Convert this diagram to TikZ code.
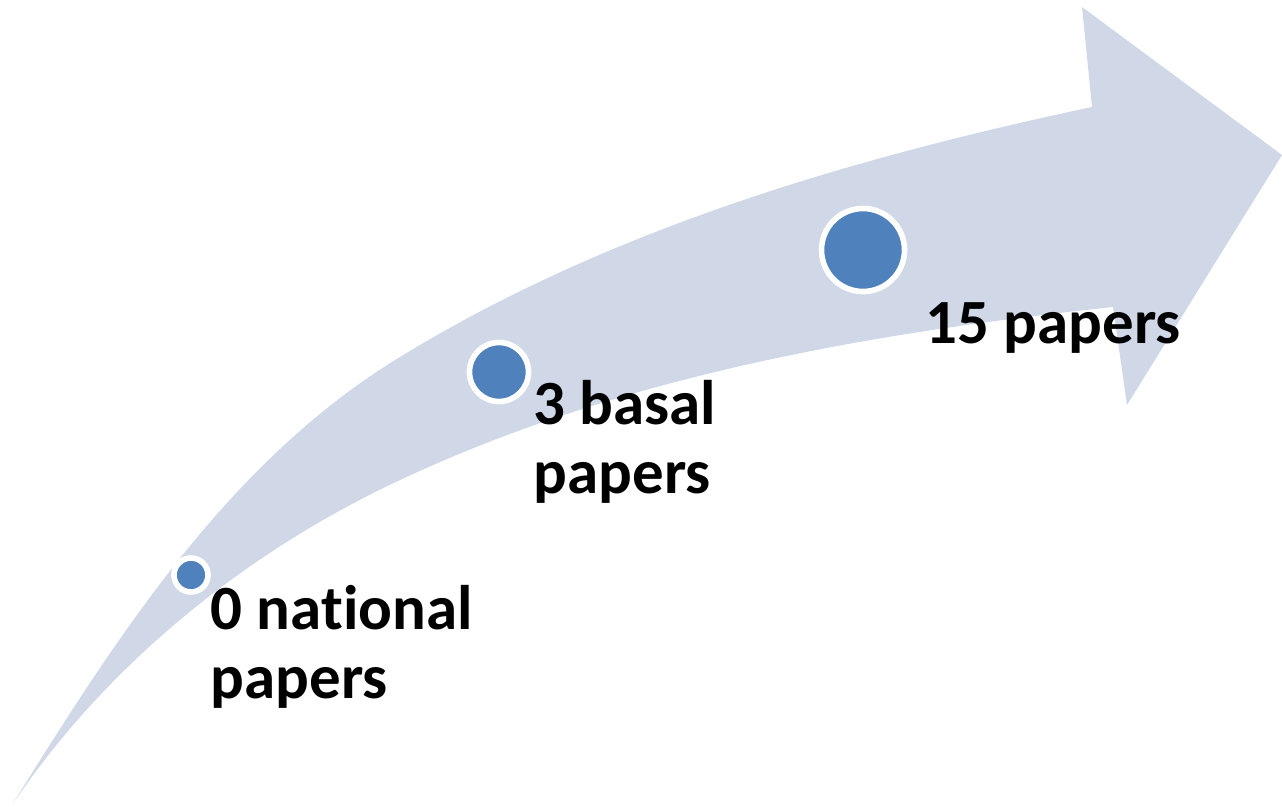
\documentclass[tikz,border=0pt]{standalone}
\usepackage{fontspec}
\setmainfont[Ligatures=NoCommon]{Carlito}
\definecolor{bandfill}{RGB}{208, 216, 232}
\definecolor{dotblue}{RGB}{79, 129, 189}
\tikzset{
    band/.style={fill=bandfill, draw=none},
    dot/.style={circle, draw=white, fill=dotblue, line width=1.6pt, inner sep=0pt},
    caption/.style={anchor=base west, align=left, inner sep=0pt, text=black, font=\bfseries\fontsize{17.9}{19.4}\selectfont}
}

\begin{document}
\begin{tikzpicture}[x=0.01cm, y=-0.01cm]
    \useasboundingbox (0,0) rectangle (1282,806);
    % curved arrow: upper edge, head, lower edge back to the tail point
    \fill[band] (12,805) .. controls (118,635) and (229,461) .. (400,357)
        .. controls (609,229) and (852,158) .. (1092,107)
        -- (1082,7) -- (1282,155) -- (1127,405) -- (1113,307)
        .. controls (869,333) and (622,376) .. (400,480)
        .. controls (246,552) and (107,664) .. (12,805) -- cycle;

    \node (dot1) [dot, minimum size=0.34cm] at (191,575) {};
    \node (dot2) [dot, minimum size=0.59cm] at (499,372) {};
    \node (dot3) [dot, minimum size=0.83cm] at (863,250) {};

    % base anchor sits on the last line
    \node (lbl1) [caption] at (210,698) {0 national\\papers};
    \node (lbl2) [caption] at (533,493) {3 basal\\papers};
    \node (lbl3) [caption] at (925,343) {15 papers};
\end{tikzpicture}
\end{document}
